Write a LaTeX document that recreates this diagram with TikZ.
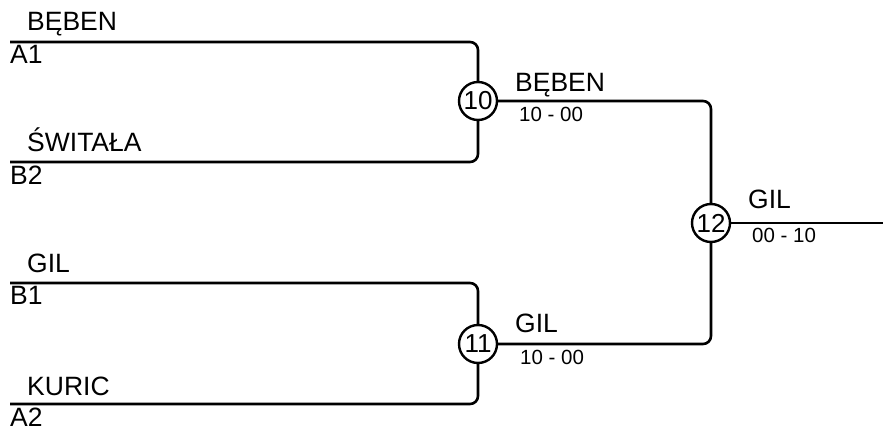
\documentclass[tikz,border=0pt]{standalone}
\usepackage{fontspec}
\setmainfont{Liberation Sans}
\begin{document}
\begin{tikzpicture}[x=1pt,y=-1pt,
  bline/.style={line width=2.6pt,rounded corners=8pt},
  lbl/.style={anchor=base west,inner sep=0pt,font=\fontsize{26.5}{30}\selectfont},
  score/.style={anchor=base west,inner sep=0pt,font=\fontsize{20.5}{23}\selectfont},
  match/.style={circle,draw,line width=2.4pt,fill=white,minimum size=38pt,inner sep=0pt,font=\fontsize{26}{28}\selectfont}]
\useasboundingbox (0,0) rectangle (883,427);
% start points and junctions
\coordinate (s1) at (10,42);
\coordinate (s2) at (10,162);
\coordinate (s3) at (10,283);
\coordinate (s4) at (10,404);
\coordinate (c10) at (478,101);
\coordinate (c11) at (478,344);
\coordinate (c12) at (711,223);
\coordinate (fin) at (883,223);
% lines
\draw[bline] (s1) -| (c10);
\draw[bline] (s2) -| (c10);
\draw[bline] (s3) -| (c11);
\draw[bline] (s4) -| (c11);
\draw[bline] (c10) -| (c12);
\draw[bline] (c11) -| (c12);
\draw[bline] (c12) -- (fin);
% match circles
\node[match] (m10) at (c10) {10};
\node[match] (m11) at (c11) {11};
\node[match] (m12) at (c12) {12};
% names
\node[lbl] (n1) at (27,31) {BĘBEN};
\node[lbl] (q1) at (10,64) {A1};
\node[lbl] (n2) at (27,152) {ŚWITAŁA};
\node[lbl] (q2) at (10,185) {B2};
\node[lbl] (n3) at (27,273) {GIL};
\node[lbl] (q3) at (10,305) {B1};
\node[lbl] (n4) at (27,395) {KURIC};
\node[lbl] (q4) at (10,426) {A2};
% winners
\node[lbl] (w10) at (515,92) {BĘBEN};
\node[score] (r10) at (519,122) {10 - 00};
\node[lbl] (w11) at (515,333) {GIL};
\node[score] (r11) at (520,364) {10 - 00};
\node[lbl] (w12) at (748,209) {GIL};
\node[score] (r12) at (752,243) {00 - 10};
\end{tikzpicture}
\end{document}
